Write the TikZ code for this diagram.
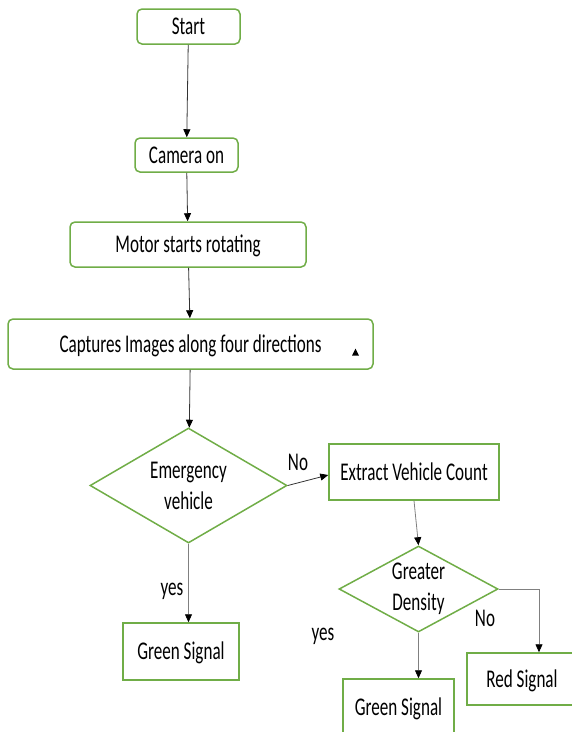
\documentclass[tikz,border=0pt]{standalone}
\usepackage{fontspec}
\setmainfont[FakeStretch=0.67]{Carlito}
\usetikzlibrary{shapes.geometric,arrows.meta}
\definecolor{ogreen}{HTML}{70AD47}
\begin{document}
\begin{tikzpicture}[x=1pt,y=-1pt,
  box/.style={draw=ogreen,line width=1.5pt,fill=white,inner sep=0pt,font=\fontsize{25.5}{30}\selectfont,text height=16.5pt,text depth=0pt},
  rbox/.style={box,rounded corners=5pt},
  dia/.style={draw=ogreen,line width=1.5pt,diamond,inner sep=0pt},
  dtext/.style={font=\fontsize{25.5}{31}\selectfont,align=center,inner sep=0pt},
  arr/.style={draw=black!80,line width=0.8pt,-{Triangle[length=8pt,width=7pt,color=black]}},
  arrg/.style={arr,draw=black!50},
  lbl/.style={font=\fontsize{25.5}{28}\selectfont,inner sep=0pt}]
\useasboundingbox (0,0) rectangle (572,732);
\clip (0,0) rectangle (572,732);
\node[rbox,minimum width=103pt,minimum height=35pt] (start) at (188.5,26.5) {Start};
\node[rbox,minimum width=103pt,minimum height=34pt] (cam) at (186.5,155) {Camera on};
\node[rbox,minimum width=236pt,minimum height=45pt] (motor) at (188,244.5) {Motor starts rotating};
\node[rbox,minimum width=365pt,minimum height=50pt] (cap) at (190.5,344) {Captures Images along four directions};
\node[dia,minimum width=197pt,minimum height=115pt,label={[dtext]center:Emergency\\vehicle}] (emg) at (188.5,485.5) {};
\node[box,minimum width=170pt,minimum height=56pt] (ext) at (414,472) {Extract Vehicle Count};
\node[dia,minimum width=159pt,minimum height=86pt,label={[dtext]center:Greater\\Density}] (gd) at (418.5,589) {};
\node[box,minimum width=116pt,minimum height=57pt] (g1) at (181,651.5) {Green Signal};
\node[box,minimum width=111pt,minimum height=57pt] (g2) at (398.5,707.5) {Green Signal};
\node[box,minimum width=110pt,minimum height=52pt] (red) at (522,679) {Red Signal};
\coordinate (tri) at (355.5,352);
\fill (tri) ++(-3.5,3.5) -- ++(7,0) -- ++(-3.5,-7) -- cycle;
\draw[arr] (start) -- (cam);
\draw[arr] (cam) -- (motor);
\draw[arr] (motor) -- (cap);
\draw[arr] (cap) -- (emg);
\draw[arr] (emg.east) -- ([yshift=-3pt]ext.west);
\draw[arrg] (ext.south) -- (gd.north);
\draw[arrg] (emg.south) -- (emg.south |- g1.north);
\draw[arrg] (gd.south) -- (gd.south |- g2.north);
\draw[arrg] (gd.east) -| ([xshift=17pt]red.north);
\node[lbl] (no1) at (298,462) {No};
\node[lbl] (yes1) at (172,591) {yes};
\node[lbl] (no2) at (485,618) {No};
\node[lbl] (yes2) at (323,636) {yes};
\end{tikzpicture}
\end{document}
